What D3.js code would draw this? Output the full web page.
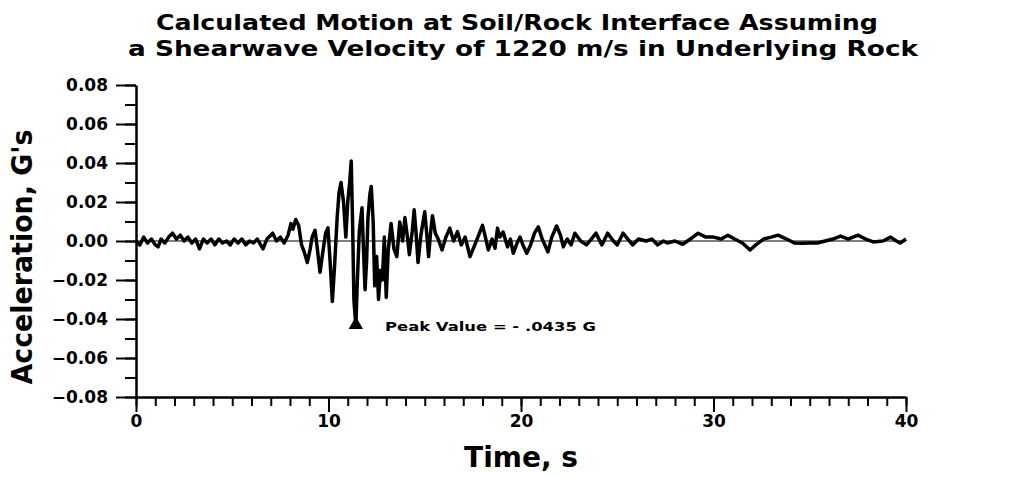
<!DOCTYPE html>
<html>
<head>
<meta charset="utf-8">
<script src="https://cdn.jsdelivr.net/npm/d3@7"></script>
<style>
    body { margin: 0; background: #fff; }
    svg text { font-family: "DejaVu Sans", sans-serif; font-weight: bold; fill: #000; }
</style>
</head>
<body>
<svg id="motion-svg"></svg>
<script>
// time (s) and acceleration (G)
const timeS = [
    0.0, 0.2, 0.4, 0.6, 0.8, 1.0, 1.15, 1.3, 1.5, 1.7, 1.9, 2.1, 2.3, 2.5, 2.7, 2.9, 3.1, 3.3, 3.5, 3.7,
    3.9, 4.1, 4.3, 4.5, 4.7, 4.9, 5.1, 5.3, 5.5, 5.7, 5.9, 6.1, 6.3, 6.6, 6.8, 7.0, 7.1, 7.3, 7.5, 7.7,
    7.9, 8.05, 8.15, 8.3, 8.45, 8.6, 8.75, 8.9, 9.05, 9.15, 9.3, 9.42, 9.56, 9.7, 9.85, 9.97, 10.08, 10.2, 10.32, 10.45,
    10.55, 10.65, 10.78, 10.9, 11.0, 11.1, 11.18, 11.25, 11.32, 11.42, 11.5, 11.6, 11.74, 11.82, 11.9, 11.98, 12.05, 12.15, 12.22, 12.32,
    12.4, 12.5, 12.6, 12.7, 12.8, 12.9, 13.0, 13.1, 13.25, 13.4, 13.55, 13.7, 13.85, 13.97, 14.1, 14.2, 14.35, 14.45, 14.55, 14.65,
    14.8, 15.0, 15.1, 15.2, 15.3, 15.4, 15.55, 15.7, 15.9, 16.1, 16.3, 16.5, 16.7, 16.9, 17.1, 17.35, 17.6, 17.8, 18.0, 18.15,
    18.3, 18.5, 18.65, 18.78, 18.9, 19.07, 19.3, 19.45, 19.6, 19.8, 19.95, 20.1, 20.3, 20.5, 20.7, 20.9, 21.1, 21.4, 21.6, 21.85,
    22.05, 22.2, 22.4, 22.6, 22.8, 23.1, 23.4, 23.65, 23.9, 24.2, 24.5, 24.8, 25.0, 25.3, 25.55, 25.8, 26.1, 26.5, 26.8, 27.1,
    27.4, 27.6, 28.0, 28.4, 28.8, 29.2, 29.6, 30.0, 30.4, 30.75, 31.1, 31.5, 31.9, 32.2, 32.6, 33.0, 33.35, 33.8, 34.2, 34.6,
    35.0, 35.4, 35.8, 36.2, 36.6, 37.0, 37.5, 37.9, 38.3, 38.8, 39.2, 39.5, 39.7, 40.0
]
const accelG = [
    0.000, -0.002, 0.002, -0.001, 0.001, -0.002, -0.003, 0.001, -0.001, 0.002, 0.004, 0.001, 0.003, 0.000, 0.002, -0.001, 0.001, -0.004, 0.001, -0.001,
    0.001, -0.002, 0.001, -0.001, 0.000, -0.002, 0.001, -0.001, 0.001, -0.002, 0.000, -0.001, 0.001, -0.004, 0.001, 0.003, 0.004, 0.000, 0.002, -0.001,
    0.003, 0.009, 0.006, 0.011, 0.008, -0.002, -0.006, -0.011, -0.004, 0.002, 0.0055, -0.004, -0.016, -0.006, 0.004, 0.0067, -0.010, -0.031, -0.012, 0.012,
    0.025, 0.030, 0.020, 0.002, 0.020, 0.030, 0.041, 0.010, -0.030, -0.0435, -0.020, 0.005, 0.017, -0.005, -0.025, -0.010, 0.012, 0.024, 0.028, 0.010,
    -0.023, -0.008, -0.030, -0.015, -0.020, 0.002, -0.029, -0.005, 0.009, -0.004, -0.008, 0.0097, 0.000, 0.012, 0.002, -0.007, 0.005, 0.016, 0.004, -0.011,
    0.003, 0.015, 0.004, -0.008, 0.004, 0.013, 0.004, 0.001, -0.0046, 0.002, 0.0066, 0.000, 0.0048, -0.002, 0.002, -0.008, -0.002, 0.003, 0.008, 0.002,
    -0.0046, 0.001, -0.0037, 0.0066, 0.002, 0.0046, -0.003, 0.001, -0.0063, -0.001, 0.002, -0.002, -0.0063, -0.002, 0.004, 0.0072, 0.001, -0.0056, 0.002, 0.0077,
    0.003, -0.003, 0.001, -0.002, 0.004, 0.000, -0.002, 0.001, 0.004, -0.002, 0.004, 0.000, -0.002, 0.004, 0.001, -0.002, 0.001, 0.000, 0.001, -0.002,
    0.000, -0.001, 0.000, -0.0017, 0.001, 0.004, 0.002, 0.002, 0.001, 0.003, 0.001, -0.001, -0.0046, -0.002, 0.001, 0.002, 0.003, 0.001, -0.001, -0.0012,
    -0.001, -0.001, 0.000, 0.001, 0.0025, 0.001, 0.003, 0.001, -0.0005, 0.000, 0.002, 0.000, -0.001, 0.001
]
const peakTime = 11.42
const peakValue = -0.0435
const peakLabel = 'Peak Value = - .0435 G'
const xMajorTicks = [0, 10, 20, 30, 40]
const xMinorTicks = d3.range(0, 41, 1)
const yMajorTicks = [-0.08, -0.06, -0.04, -0.02, 0, 0.02, 0.04, 0.06, 0.08]
const yMinorTicks = d3.range(-8, 9).map(d => d / 100)
const titleLines = ['Calculated Motion at Soil/Rock Interface Assuming',
    'a Shearwave Velocity of 1220 m/s in Underlying Rock']

class MotionChart {
    constructor() {
        this.width = 1016
        this.height = 477
        this.svg = d3.select('#motion-svg')
            .attr('width', this.width)
            .attr('height', this.height)
        this.xScale = d3.scaleLinear().domain([0, 40]).range([136, 906])
        this.yScale = d3.scaleLinear().domain([-0.08, 0.08]).range([397, 85])
        this.points = timeS.map((t, i) => [t, accelG[i]])
        this.drawAxes()
        this.drawTrace()
        this.drawText()
    }

    drawAxes() {
        const x = this.xScale, y = this.yScale
        // minor ticks first, major ticks + labels on top
        this.svg.append('g')
            .attr('transform', 'translate(0,' + y(-0.08) + ')')
            .call(d3.axisBottom(x).tickValues(xMinorTicks).tickSize(9).tickFormat(''))
            .call(g => g.select('.domain').remove())
        this.svg.append('g')
            .attr('id', 'xAxis')
            .attr('transform', 'translate(0,' + y(-0.08) + ')')
            .call(d3.axisBottom(x).tickValues(xMajorTicks).tickSize(15).tickSizeOuter(0).tickPadding(3).tickFormat(d3.format('d')))
        this.svg.append('g')
            .attr('transform', 'translate(' + x(0) + ',0)')
            .call(d3.axisLeft(y).tickValues(yMinorTicks).tickSize(11).tickFormat(''))
            .call(g => g.select('.domain').remove())
        this.svg.append('g')
            .attr('id', 'yAxis')
            .attr('transform', 'translate(' + x(0) + ',0)')
            .call(d3.axisLeft(y).tickValues(yMajorTicks).tickSize(20).tickSizeOuter(0).tickPadding(8).tickFormat(d3.format('.2f')))

        this.svg.selectAll('.domain').attr('stroke-width', 2.5)
        this.svg.selectAll('.tick line').attr('stroke-width', 2)
        this.svg.selectAll('#xAxis .tick text, #yAxis .tick text')
            .style('font-size', '17px')
            .attr('font-family', null)
            .attr('font-size', null)
    }

    drawTrace() {
        const x = this.xScale, y = this.yScale
        this.svg.append('line')
            .attr('x1', x(0)).attr('x2', x(40))
            .attr('y1', y(0)).attr('y2', y(0))
            .attr('stroke', 'black')
            .attr('stroke-width', 1.2)
        const line = d3.line()
            .x(d => x(d[0]))
            .y(d => y(d[1]))
        this.svg.append('path')
            .datum(this.points)
            .attr('d', line)
            .attr('fill', 'none')
            .attr('stroke', 'black')
            .attr('stroke-width', 3.5)
            .attr('stroke-linejoin', 'round')

        this.svg.append('path')
            .attr('d', d3.symbol(d3.symbolTriangle, 90)())
            .attr('transform', 'translate(' + x(peakTime) + ',' + (y(peakValue) - 1) + ')')
            .attr('fill', 'black')
        this.svg.append('text')
            .attr('x', 385)
            .attr('y', y(peakValue) + 5)
            .attr('textLength', 211)
            .attr('lengthAdjust', 'spacingAndGlyphs')
            .style('font-size', '13px')
            .text(peakLabel)
    }

    drawText() {
        const starts = [156, 128], lengths = [722, 790], bases = [30, 56]
        titleLines.forEach((t, i) => {
            this.svg.append('text')
                .attr('x', starts[i])
                .attr('y', bases[i])
                .attr('textLength', lengths[i])
                .attr('lengthAdjust', 'spacingAndGlyphs')
                .style('font-size', '22px')
                .text(t)
        })
        this.svg.append('text')
            .attr('transform', 'translate(32,257) rotate(-90)')
            .attr('text-anchor', 'middle')
            .attr('textLength', 255)
            .attr('lengthAdjust', 'spacingAndGlyphs')
            .style('font-size', '29px')
            .text("Acceleration,  G's")
        this.svg.append('text')
            .attr('x', 521)
            .attr('y', 467)
            .attr('text-anchor', 'middle')
            .style('font-size', '28px')
            .text('Time,  s')
    }
}

const chart = new MotionChart()
</script>
</body>
</html>
